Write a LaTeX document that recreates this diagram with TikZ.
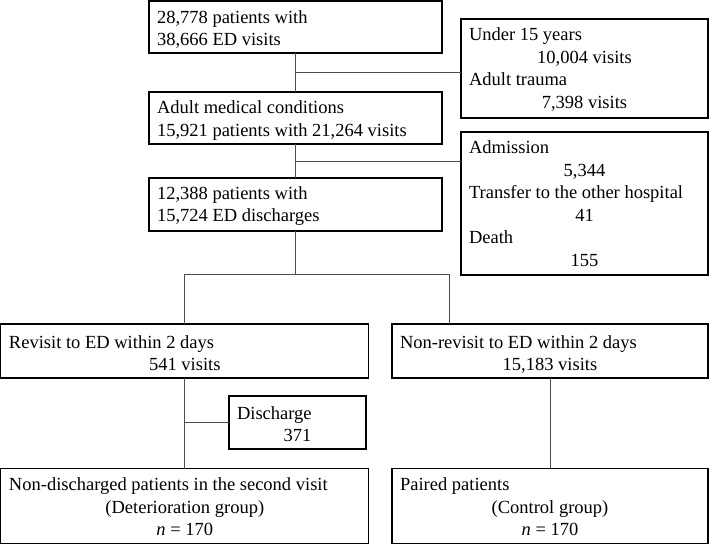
\documentclass[tikz,border=0pt]{standalone}
\usepackage{fontspec}
\setmainfont{Liberation Serif}
\usetikzlibrary{calc}
\newcommand{\fsz}{\fontsize{18.5}{22.5}\selectfont}
\tikzset{
  box/.style={draw=black, line width=1.3pt, inner sep=0pt, outer sep=0pt},
  txt/.style={inner sep=0pt, outer sep=0pt, font=\fsz},
  lt/.style={txt, anchor=base west},
  ct/.style={txt, anchor=base},
  conn/.style={draw=black!70, line width=0.9pt}
}
\begin{document}
\begin{tikzpicture}[x=1pt,y=-1pt]
\useasboundingbox (0,0) rectangle (709,545);
% boxes
\node[box, minimum width=293pt, minimum height=52pt] (b1) at (295.5,27) {};
\node[box, minimum width=247pt, minimum height=99pt] (r1) at (584.5,68.5) {};
\node[box, minimum width=293pt, minimum height=52pt] (b2) at (295.5,118) {};
\node[box, minimum width=247pt, minimum height=143pt] (r2) at (584.5,203.5) {};
\node[box, minimum width=293pt, minimum height=53pt] (b3) at (295.5,204.5) {};
\node[box, minimum width=368pt, minimum height=54pt] (rev) at (184.8,351) {};
\node[box, minimum width=316pt, minimum height=54pt] (nrev) at (550,351) {};
\node[box, minimum width=137pt, minimum height=53pt] (dis) at (297.5,422.5) {};
\node[box, minimum width=368pt, minimum height=75pt] (nd) at (184.8,506) {};
\node[box, minimum width=316pt, minimum height=75pt] (pair) at (550,506) {};
% texts
\node[lt] (t1a) at (157,23.3) {28,778 patients with};
\node[lt] (t1b) at (157,45.7) {38,666 ED visits};
\node[lt] (r1a) at (469,41) {Under 15 years};
\node[ct] (r1b) at (584.5,63.5) {10,004 visits};
\node[lt] (r1c) at (469,86) {Adult trauma};
\node[ct] (r1d) at (584.5,108.5) {7,398 visits};
\node[lt] (t2a) at (157,114) {Adult medical conditions};
\node[lt] (t2b) at (157,136.5) {15,921 patients with 21,264 visits};
\node[lt] (r2a) at (469,154) {Admission};
\node[ct] (r2b) at (584.5,176.5) {5,344};
\node[lt] (r2c) at (469,199) {Transfer to the other hospital};
\node[ct] (r2d) at (584.5,221.5) {41};
\node[lt] (r2e) at (469,244) {Death};
\node[ct] (r2f) at (584.5,266.5) {155};
\node[lt] (t3a) at (157,199.5) {12,388 patients with};
\node[lt] (t3b) at (157,222) {15,724 ED discharges};
\node[lt] (reva) at (9,348) {Revisit to ED within 2 days};
\node[ct] (revb) at (184.8,370) {541 visits};
\node[lt] (nreva) at (400,348) {Non-revisit to ED within 2 days};
\node[ct] (nrevb) at (550,370) {15,183 visits};
\node[lt] (disa) at (237,419) {Discharge};
\node[ct] (disb) at (297.5,441) {371};
\node[lt] (nda) at (9,490.5) {Non-discharged patients in the second visit};
\node[ct] (ndb) at (184.8,513) {(Deterioration group)};
\node[ct] (ndc) at (184.8,535.5) {{\itshape n} = 170};
\node[lt] (pa) at (400,490.5) {Paired patients};
\node[ct] (pb) at (550,513) {(Control group)};
\node[ct] (pc) at (550,535.5) {{\itshape n} = 170};
% connectors
\coordinate (j1) at ($(b1.south)!0.5!(b2.north)$);
\coordinate (j2) at ($(b2.south)!0.5!(b3.north)$);
\coordinate (j3) at (295.5,274.5);
\coordinate (jl) at (rev.north |- j3);
\coordinate (jr) at (449,274.5);
\coordinate (jd) at (rev.south |- dis.west);
\draw[conn] (b1.south) -- (b2.north);
\draw[conn] (j1) -- (j1 -| r1.west);
\draw[conn] (b2.south) -- (b3.north);
\draw[conn] (j2) -- (j2 -| r2.west);
\draw[conn] (b3.south) -- (j3);
\draw[conn] (rev.north) -- (jl) -- (jr) -- (jr |- nrev.north);
\draw[conn] (rev.south) -- (nd.north);
\draw[conn] (jd) -- (dis.west);
\draw[conn] (nrev.south) -- (pair.north);
\end{tikzpicture}
\end{document}
